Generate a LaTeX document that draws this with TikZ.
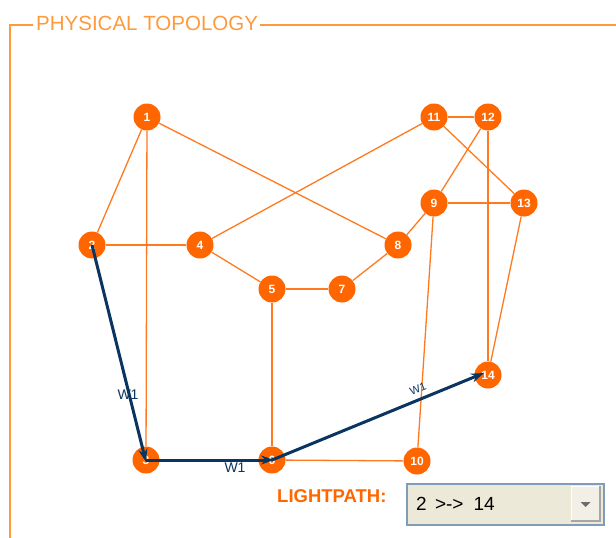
\documentclass[tikz,border=0pt]{standalone}
\usepackage{fontspec}
\setmainfont{Liberation Sans}
\usetikzlibrary{arrows.meta}
\definecolor{nodeor}{HTML}{FF6600}
\definecolor{edgeor}{HTML}{FF7A1F}
\definecolor{frameor}{HTML}{FF9A3C}
\definecolor{navy}{HTML}{0A3560}
\definecolor{boxbg}{HTML}{ECE9D8}
\definecolor{boxbd}{HTML}{7F9DB9}
\definecolor{btnbg}{HTML}{F2F0E6}
\begin{document}
\begin{tikzpicture}[x=1pt,y=-1pt,
  vtx/.style={circle, fill=nodeor, inner sep=0pt, minimum size=27pt, text=white,
    font=\fontsize{12}{12}\selectfont\bfseries},
  edge/.style={draw=edgeor, line width=1.3pt},
  lp/.style={draw=navy, line width=3pt, -{Stealth[length=13pt,width=9pt]}},
  wl/.style={text=navy, font=\fontsize{14}{14}\selectfont, inner sep=0pt},
  frame/.style={draw=frameor, line width=2pt}]
\useasboundingbox (0,0) rectangle (616,538);
\fill[white] (0,0) rectangle (616,538);
% frame
\node[anchor=base west, text=frameor, inner sep=0pt, font=\fontsize{20.5}{20.5}\selectfont] (title) at (36,30) {PHYSICAL TOPOLOGY};
\coordinate (fa) at (33,25);
\coordinate (fb) at (10,25);
\coordinate (fc) at (10,538);
\coordinate (fd) at (260,25);
\coordinate (fe) at (616,25);
\draw[frame] (fa) -- (fb) -- (fc);
\draw[frame] (fd) -- (fe);
% vertices
\node[vtx] (n1) at (147,117) {1};
\node[vtx] (n2) at (92,245) {2};
\node[vtx] (n3) at (146,460) {3};
\node[vtx] (n4) at (200,245) {4};
\node[vtx] (n5) at (272,289) {5};
\node[vtx] (n6) at (272,460) {6};
\node[vtx] (n7) at (342,289) {7};
\node[vtx] (n8) at (398,245) {8};
\node[vtx] (n9) at (434,203) {9};
\node[vtx] (n10) at (417,461) {10};
\node[vtx] (n11) at (434,117) {11};
\node[vtx] (n12) at (488,117) {12};
\node[vtx] (n13) at (524,203) {13};
\node[vtx] (n14) at (488,375) {14};
% edges
\draw[edge] (n1) -- (n2);
\draw[edge] (n1) -- (n3);
\draw[edge] (n1) -- (n8);
\draw[edge] (n2) -- (n4);
\draw[edge] (n4) -- (n11);
\draw[edge] (n4) -- (n5);
\draw[edge] (n5) -- (n7);
\draw[edge] (n7) -- (n8);
\draw[edge] (n8) -- (n9);
\draw[edge] (n9) -- (n12);
\draw[edge] (n11) -- (n12);
\draw[edge] (n11) -- (n13);
\draw[edge] (n9) -- (n13);
\draw[edge] (n12) -- (n14);
\draw[edge] (n13) -- (n14);
\draw[edge] (n9) -- (n10);
\draw[edge] (n5) -- (n6);
\draw[edge] (n6) -- (n10);
\draw[edge] (n3) -- (n6);
% lightpath
\draw[lp] (n2.center) -- ([yshift=-2pt]n3.center);
\draw[lp] (n3.center) -- ([xshift=2pt]n6.center);
\draw[lp] (n6.center) -- ([xshift=-4pt,yshift=2pt]n14.center);
\node[wl] (w1) at (128,395) {W1};
\node[wl] (w2) at (235,468) {W1};
\node[wl, rotate=21.7, font=\fontsize{11}{11}\selectfont] (w3) at (418,389) {W1};
% lightpath selector
\node[anchor=base west, inner sep=0pt, text=nodeor, font=\fontsize{18.5}{18.5}\selectfont\bfseries] (lbl) at (277,502) {LIGHTPATH:};
\node[draw=boxbd, line width=1.5pt, fill=boxbg, minimum width=197pt, minimum height=41pt, inner sep=0pt, anchor=north west] (box) at (406,483) {};
\node[anchor=base west, inner sep=0pt, font=\fontsize{19}{19}\selectfont] (val) at (416,510) {2 \hspace{3pt}>->\hspace{10pt}14};
\node[fill=btnbg, draw=white, line width=1pt, minimum width=28pt, minimum height=34pt, inner sep=0pt, anchor=north east] (btn) at (600,486) {};
\draw[gray!70, line width=1.2pt] (btn.north east) -- (btn.south east) -- (btn.south west);
\fill[gray!85!black] ([xshift=-5pt,yshift=1.5pt]btn.center) -- ([xshift=5pt,yshift=1.5pt]btn.center) -- ([yshift=-3.5pt]btn.center) -- cycle;
\end{tikzpicture}
\end{document}
